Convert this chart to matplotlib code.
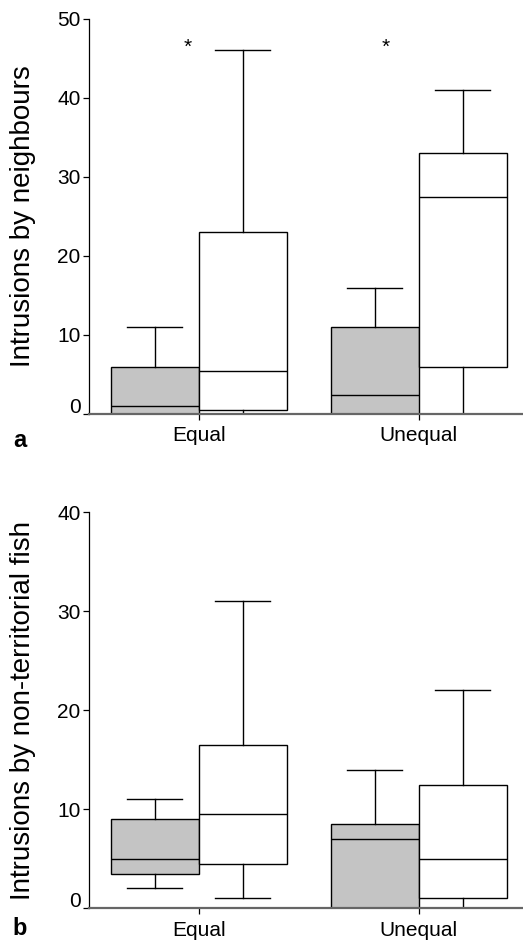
import matplotlib
matplotlib.use("Agg")
import matplotlib.pyplot as plt
import matplotlib.transforms as mtransforms

plt.rcParams.update({
    "font.family": ["Liberation Sans", "DejaVu Sans"],
    "font.size": 14,
})

# ── Data ───────────────────────────────────────────────────────────────────
categories = ["Equal", "Unequal"]

# panel a: intrusions by neighbours  (whislo, q1, med, q3, whishi)
neigh_gray = [(0, 0, 1.0, 6, 11), (0, 0, 2.4, 11, 16)]
neigh_white = [(0, 0.5, 5.5, 23, 46), (0, 6, 27.5, 33, 41)]
# significance marks: (category index, offset, value)
neigh_stars = [(0, -0.05, 46.4), (1, -0.15, 46.4)]

# panel b: intrusions by non-territorial fish
nonterr_gray = [(2, 3.5, 5, 9, 11), (0, 0, 7, 8.5, 14)]
nonterr_white = [(1, 4.5, 9.5, 16.5, 31), (0, 1, 5, 12.5, 22)]

GRAY = "#c4c4c4"
BOX_W = 0.4


def to_stats(rows):
    return [dict(whislo=r[0], q1=r[1], med=r[2], q3=r[3], whishi=r[4], fliers=[])
            for r in rows]


def draw_panel(ax, gray, white, ymax, ylabel, letter, letter_y):
    pos = list(range(len(categories)))
    for rows, shift, face in [(gray, -BOX_W / 2, GRAY), (white, BOX_W / 2, "white")]:
        ax.bxp(to_stats(rows), positions=[p + shift for p in pos], widths=BOX_W,
               patch_artist=True, showfliers=False,
               boxprops=dict(facecolor=face, edgecolor="black", linewidth=1.0),
               medianprops=dict(color="black", linewidth=1.0),
               whiskerprops=dict(color="black", linewidth=1.0),
               capprops=dict(color="black", linewidth=1.0),
               capwidths=0.25, manage_ticks=False)

    ax.set_xlim(-0.5, 1.475)
    ax.set_ylim(0, ymax)
    ax.set_xticks(pos)
    ax.set_xticklabels(categories)
    ax.set_yticks(range(0, ymax + 1, 10))
    ax.spines["top"].set_visible(False)
    ax.spines["right"].set_visible(False)
    ax.spines["left"].set_color("black")
    ax.spines["left"].set_linewidth(0.9)
    ax.spines["bottom"].set_color("#666666")
    ax.spines["bottom"].set_linewidth(1.6)
    ax.spines["bottom"].set_zorder(5)
    ax.tick_params(axis="y", length=4, width=0.9, pad=2, labelsize=15)
    ax.tick_params(axis="x", length=4, width=0.9, pad=5, labelsize=15)
    ax.set_ylabel(ylabel, fontsize=20)
    ax.yaxis.set_label_coords(-0.122, 0.5)
    # "0" label sits a little higher in the original
    lbl = ax.get_yticklabels()[0]
    lbl.set_transform(lbl.get_transform() + mtransforms.ScaledTranslation(0, 6 / 72, ax.figure.dpi_scale_trans))
    ax.text(-0.16, letter_y, letter, transform=ax.transAxes, fontsize=17,
            fontweight="bold", ha="center", va="baseline")


fig = plt.figure(figsize=(5.23, 9.43), dpi=100)
ax_a = fig.add_axes([0.170, 0.561, 0.830, 0.419])
ax_b = fig.add_axes([0.170, 0.0368, 0.830, 0.420])

draw_panel(ax_a, neigh_gray, neigh_white, 50, "Intrusions by neighbours", "a", -0.083)
for i, dx, y in neigh_stars:
    ax_a.text(i + dx, y, "*", ha="center", va="center", fontsize=15)

draw_panel(ax_b, nonterr_gray, nonterr_white, 40, "Intrusions by non-territorial fish", "b", -0.068)

fig.savefig("out.png", dpi=100)
plt.close(fig)
